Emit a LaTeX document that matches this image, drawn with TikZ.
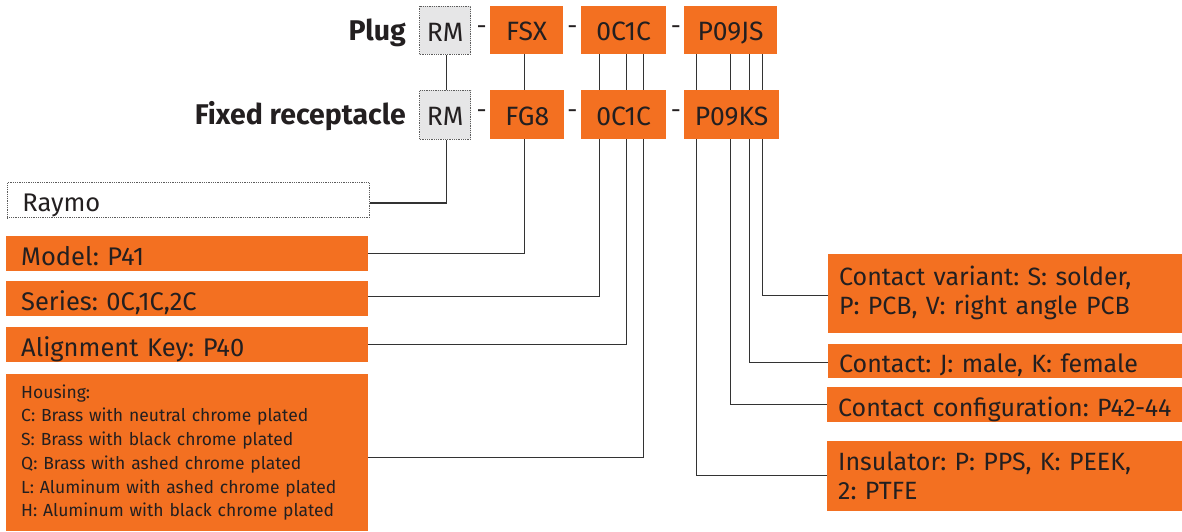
\documentclass[tikz,border=0pt]{standalone}
\usepackage{fontspec}
\setmainfont{Fira Sans}
\usetikzlibrary{calc}
\definecolor{org}{HTML}{F37021}
\definecolor{txt}{HTML}{231F20}
\definecolor{ln}{HTML}{333333}
\definecolor{gry}{HTML}{E6E6E7}
\frenchspacing
\begin{document}
\begin{tikzpicture}[x=1pt,y=-1pt,
  codebox/.style={fill=org, text=txt, inner sep=0pt, anchor=north west,
    font=\fontsize{26.5}{30}\selectfont, text height=21.4pt, text depth=0pt},
  rmbox/.style={codebox, fill=gry, draw=ln!80, densely dotted, line width=0.8pt},
  dashlbl/.style={text=txt, inner sep=0pt, font=\fontsize{25}{30}\selectfont},
  rowlbl/.style={text=txt, inner sep=0pt, anchor=base east, font=\bfseries\fontsize{28.5}{30}\selectfont},
  leftbox/.style={fill=org, text=txt, anchor=north west, inner xsep=15pt, inner ysep=0pt,
    text width=332pt, align=left, minimum height=34.7pt,
    font=\fontsize{25.5}{29}\selectfont, text height=23.4pt, text depth=0pt},
  rightbox/.style={fill=org, text=txt, anchor=north west, inner xsep=11pt, inner ysep=0pt,
    text width=350pt, align=left, font=\fontsize{25}{28.7}\selectfont},
  conn/.style={draw=ln, line width=1.3pt}]
\useasboundingbox (0,0) rectangle (1182,531);

% x positions of the vertical connectors
\coordinate (xa) at (446.5,0);
\coordinate (xb) at (524.5,0);
\coordinate (xc) at (599.5,0);
\coordinate (xd) at (626.5,0);
\coordinate (xe) at (643.5,0);
\coordinate (xf) at (696.5,0);
\coordinate (xg) at (730.5,0);
\coordinate (xh) at (749.5,0);
\coordinate (xi) at (762.5,0);

% top row
\node[rowlbl] (plug) at (406,40.7) {Plug};
\node[rmbox, minimum width=51pt, minimum height=48pt] (rm1) at (419.3,6) {RM};
\node[dashlbl] (d1) at (481.7,30) {-};
\node[codebox, minimum width=72.7pt, minimum height=48pt] (fsx) at (490,6) {FSX};
\node[dashlbl] (d2) at (572.3,30) {-};
\node[codebox, minimum width=84.7pt, minimum height=48pt] (oc1) at (581,6) {0C1C};
\node[dashlbl] (d3) at (676,30) {-};
\node[codebox, minimum width=92.7pt, minimum height=48pt] (p1) at (684,6) {P09JS};

% second row
\node[rowlbl] (fixed) at (406,124.5) {Fixed receptacle};
\node[rmbox, minimum width=51pt, minimum height=48.7pt] (rm2) at (419.3,90) {RM};
\node[dashlbl] (d4) at (481.7,114.3) {-};
\node[codebox, minimum width=74pt, minimum height=48.7pt] (fg8) at (490,90) {FG8};
\node[dashlbl] (d5) at (572.3,114.3) {-};
\node[codebox, minimum width=84.7pt, minimum height=48.7pt] (oc2) at (581,90) {0C1C};
\node[dashlbl] (d6) at (676,114.3) {-};
\node[codebox, minimum width=94.7pt, minimum height=48.7pt] (p2) at (684,90) {P09KS};

% left boxes
\node[leftbox, fill=white, draw=ln!80, densely dotted, line width=0.8pt, minimum height=35pt] (raymo) at (7,182.3) {Raymo};
\node[leftbox] (model) at (6,236) {Model: P41};
\node[leftbox] (series) at (6,281) {Series: 0C,1C,2C};
\node[leftbox] (align) at (6,327) {Alignment Key: P40};
\node[leftbox, font=\fontsize{17.5}{23.7}\selectfont, text height=, text depth=, minimum height=156.7pt] (housing) at (6,374)
  {Housing:\\C: Brass with neutral chrome plated\\S: Brass with black chrome plated\\Q: Brass with ashed chrome plated\\L: Aluminum with ashed chrome plated\\H: Aluminum with black chrome plated};

% right boxes (they run off the right edge of the picture)
\node[rightbox, minimum height=79.4pt] (cv) at (828,253.3) {Contact variant: S: solder,\\P: PCB, V: right angle PCB};
\node[rightbox, minimum height=34.4pt, text height=23.4pt, text depth=0pt] (contact) at (828,343.3) {Contact: J: male, K: female};
\node[rightbox, minimum height=34.7pt, text height=23.4pt, text depth=0pt] (config) at (827,387) {Contact configuration: P42-44};
\node[rightbox, minimum height=69.7pt] (ins) at (827,441) {Insulator: P: PPS, K: PEEK,\\2: PTFE};

% connectors between rows
\draw[conn] (rm1.south -| xa) -- (rm2.north -| xa);
\draw[conn] (fsx.south -| xb) -- (fg8.north -| xb);
\draw[conn] (oc1.south -| xc) -- (oc2.north -| xc);
\draw[conn] (oc1.south -| xd) -- (oc2.north -| xd);
\draw[conn] (oc1.south -| xe) -- (oc2.north -| xe);
\draw[conn] (p1.south -| xf) -- (p2.north -| xf);
\draw[conn] (p1.south -| xg) -- (p2.north -| xg);
\draw[conn] (p1.south -| xh) -- (p2.north -| xh);
\draw[conn] (p1.south -| xi) -- (p2.north -| xi);

% connectors to description boxes
\draw[conn] (rm2.south -| xa) |- ([yshift=-2.7pt]raymo.east);
\draw[conn] (fg8.south -| xb) |- ([yshift=-0.15pt]model.east);
\draw[conn] (oc2.south -| xc) |- ([yshift=1.85pt]series.east);
\draw[conn] (oc2.south -| xd) |- ([yshift=-0.15pt]align.east);
\draw[conn] (oc2.south -| xe) |- ([yshift=-5.2pt]housing.east);
\draw[conn] (p2.south -| xi) |- ([yshift=-2.5pt]cv.west);
\draw[conn] (p2.south -| xh) |- ([yshift=-2pt]contact.west);
\draw[conn] (p2.south -| xg) |- ([yshift=0.2pt]config.west);
\draw[conn] (p2.south -| xf) |- ([yshift=0.3pt]ins.west);
\end{tikzpicture}
\end{document}
